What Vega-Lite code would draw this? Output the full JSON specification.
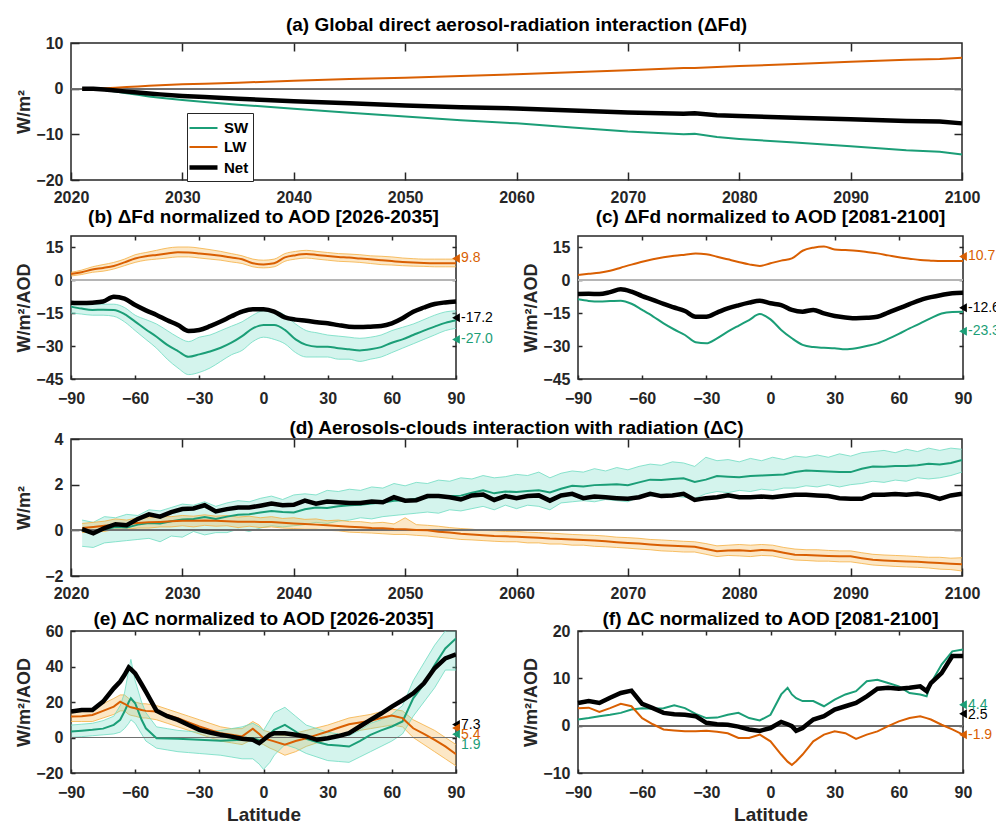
{
"$schema": "https://vega.github.io/schema/vega-lite/v6.json",
"background": "white",
"padding": {"left": 14, "top": 15, "right": 0, "bottom": 0},
"spacing": -4,
"vconcat": [
{
"width": 891, "height": 137,
"title": {"text": "(a) Global direct aerosol-radiation interaction (ΔFd)", "offset": 0},
"data": {"values": [
{"year":2021,"SW":0,"LW":0,"Net":0},
{"year":2022,"SW":-0.05,"LW":0.02,"Net":-0.03},
{"year":2023,"SW":-0.3,"LW":0.1,"Net":-0.2},
{"year":2024,"SW":-0.6,"LW":0.2,"Net":-0.4},
{"year":2025,"SW":-1.0,"LW":0.35,"Net":-0.65},
{"year":2026,"SW":-1.35,"LW":0.5,"Net":-0.85},
{"year":2027,"SW":-1.7,"LW":0.65,"Net":-1.05},
{"year":2028,"SW":-2.0,"LW":0.75,"Net":-1.25},
{"year":2030,"SW":-2.5,"LW":0.95,"Net":-1.6},
{"year":2032,"SW":-2.9,"LW":1.1,"Net":-1.85},
{"year":2035,"SW":-3.5,"LW":1.3,"Net":-2.2},
{"year":2040,"SW":-4.4,"LW":1.75,"Net":-2.75},
{"year":2045,"SW":-5.3,"LW":2.1,"Net":-3.2},
{"year":2050,"SW":-6.1,"LW":2.4,"Net":-3.7},
{"year":2055,"SW":-6.9,"LW":2.8,"Net":-4.05},
{"year":2060,"SW":-7.6,"LW":3.15,"Net":-4.35},
{"year":2065,"SW":-8.5,"LW":3.6,"Net":-4.8},
{"year":2070,"SW":-9.4,"LW":4.05,"Net":-5.2},
{"year":2075,"SW":-10.0,"LW":4.5,"Net":-5.5},
{"year":2076,"SW":-9.9,"LW":4.55,"Net":-5.4},
{"year":2078,"SW":-10.6,"LW":4.75,"Net":-5.8},
{"year":2080,"SW":-11.0,"LW":4.95,"Net":-6.0},
{"year":2085,"SW":-11.8,"LW":5.4,"Net":-6.35},
{"year":2090,"SW":-12.6,"LW":5.9,"Net":-6.7},
{"year":2095,"SW":-13.5,"LW":6.35,"Net":-7.1},
{"year":2098,"SW":-13.8,"LW":6.5,"Net":-7.2},
{"year":2100,"SW":-14.4,"LW":6.75,"Net":-7.6}
]},
"resolve": {"axis": {"x": "independent", "y": "independent"}},
"layer": [
{"mark": {"type": "rule", "color": "#707070", "strokeWidth": 1}, "encoding": {"y": {"datum": 0, "type": "quantitative", "axis": null}}},
{"mark": {"type": "point", "opacity": 0}, "encoding": {
 "x": {"field": "year", "type": "quantitative", "scale": {"domain": [2020,2100], "nice": false, "zero": false}, "axis": {"orient": "top", "labels": false, "title": null, "values": [2030,2040,2050,2060,2070,2080,2090], "tickSize": -8}},
 "y": {"field": "SW", "type": "quantitative", "scale": {"domain": [-20,10], "nice": false, "zero": false}, "axis": {"orient": "right", "labels": false, "title": null, "values": [-10,0], "tickSize": -8}}}},
{"transform": [{"fold": ["SW","LW","Net"], "as": ["series","value"]}],
 "mark": {"type": "line"},
 "encoding": {
 "x": {"field": "year", "type": "quantitative", "scale": {"domain": [2020,2100], "nice": false, "zero": false}, "axis": {"values": [2020,2030,2040,2050,2060,2070,2080,2090,2100], "format": "d", "title": null, "tickSize": -8, "labelPadding": 17}},
 "y": {"field": "value", "type": "quantitative", "scale": {"domain": [-20,10], "nice": false, "zero": false}, "axis": {"values": [-20,-10,0,10], "title": "W/m²", "tickSize": -8, "labelPadding": 16}},
 "color": {"field": "series", "type": "nominal", "scale": {"domain": ["SW","LW","Net"], "range": ["#1b9e77","#d95f02","#000000"]},
   "legend": {"orient": "none", "legendX": 116, "legendY": 70, "title": null, "strokeColor": "#262626", "fillColor": "#ffffff", "padding": 4, "labelFontSize": 15, "labelFontWeight": "bold", "labelColor": "#000000", "symbolType": "M-1.4,0H1.4", "symbolSize": 400, "rowPadding": 0, "labelOffset": 8, "offset": 0}},
 "strokeWidth": {"field": "series", "type": "nominal", "scale": {"type": "ordinal", "domain": ["SW","LW","Net"], "range": [2,2,4.5]},
   "legend": {"orient": "none", "legendX": 116, "legendY": 70, "title": null, "strokeColor": "#262626", "fillColor": "#ffffff", "padding": 4, "labelFontSize": 15, "labelFontWeight": "bold", "labelColor": "#000000", "symbolType": "M-1.4,0H1.4", "symbolSize": 400, "rowPadding": 0, "labelOffset": 8, "offset": 0}}
 }}
]
},
{"width": 1, "height": 4, "view": {"stroke": null}, "data": {"values": [{"k": 0}]}, "mark": {"type": "point", "opacity": 0}},
{"bounds": "flush", "spacing": 122, "hconcat": [
{
"width": 385, "height": 143,
"title": {"text": "(b) ΔFd normalized to AOD [2026-2035]", "offset": 8},
"data": {"values": [
{"lat":-90,"SW":-12.1,"LW":2.7,"Net":-10.3,"SWlo":-15,"SWhi":-10,"LWlo":1.8,"LWhi":3.5},
{"lat":-85,"SW":-13.0,"LW":3.5,"Net":-10.5,"SWlo":-15.5,"SWhi":-10.5,"LWlo":2.5,"LWhi":4.5},
{"lat":-80,"SW":-13.6,"LW":4.8,"Net":-10.3,"SWlo":-16,"SWhi":-11,"LWlo":3.5,"LWhi":6},
{"lat":-75,"SW":-13.5,"LW":5.5,"Net":-9.8,"SWlo":-16,"SWhi":-11,"LWlo":4,"LWhi":7},
{"lat":-70,"SW":-13.6,"LW":6.4,"Net":-7.6,"SWlo":-16.5,"SWhi":-11,"LWlo":5,"LWhi":8},
{"lat":-65,"SW":-15.5,"LW":8.0,"Net":-8.5,"SWlo":-19,"SWhi":-12.5,"LWlo":6.5,"LWhi":9.5},
{"lat":-60,"SW":-18.9,"LW":9.8,"Net":-11.4,"SWlo":-23,"SWhi":-16,"LWlo":8,"LWhi":11.5},
{"lat":-55,"SW":-22.5,"LW":10.8,"Net":-13.8,"SWlo":-27,"SWhi":-18,"LWlo":9,"LWhi":12.5},
{"lat":-50,"SW":-25.8,"LW":11.4,"Net":-15.9,"SWlo":-31,"SWhi":-20,"LWlo":9.5,"LWhi":13.5},
{"lat":-45,"SW":-29.5,"LW":12.0,"Net":-18.3,"SWlo":-36,"SWhi":-23,"LWlo":10,"LWhi":14.5},
{"lat":-40,"SW":-32.3,"LW":12.6,"Net":-20.5,"SWlo":-40,"SWhi":-26,"LWlo":10.5,"LWhi":15},
{"lat":-35,"SW":-34.9,"LW":12.5,"Net":-23.2,"SWlo":-43,"SWhi":-28,"LWlo":10.5,"LWhi":15},
{"lat":-30,"SW":-33.8,"LW":12.1,"Net":-22.7,"SWlo":-42,"SWhi":-26,"LWlo":10,"LWhi":14.5},
{"lat":-25,"SW":-32.5,"LW":11.6,"Net":-21.0,"SWlo":-40,"SWhi":-25,"LWlo":9.5,"LWhi":13.8},
{"lat":-20,"SW":-30.8,"LW":11.0,"Net":-18.9,"SWlo":-37,"SWhi":-23,"LWlo":9,"LWhi":13},
{"lat":-15,"SW":-28.5,"LW":10.2,"Net":-16.5,"SWlo":-34,"SWhi":-21,"LWlo":8.2,"LWhi":12},
{"lat":-10,"SW":-25.5,"LW":9.4,"Net":-14.4,"SWlo":-32,"SWhi":-19,"LWlo":7.5,"LWhi":11},
{"lat":-5,"SW":-22.0,"LW":7.6,"Net":-13.3,"SWlo":-28,"SWhi":-16,"LWlo":6,"LWhi":9.5},
{"lat":0,"SW":-20.5,"LW":7.1,"Net":-13.3,"SWlo":-26,"SWhi":-14,"LWlo":5.5,"LWhi":9},
{"lat":5,"SW":-20.5,"LW":7.6,"Net":-14.4,"SWlo":-27,"SWhi":-14,"LWlo":6,"LWhi":9.5},
{"lat":10,"SW":-22.7,"LW":10.3,"Net":-17.0,"SWlo":-29,"SWhi":-16,"LWlo":8.5,"LWhi":12},
{"lat":15,"SW":-27.0,"LW":11.3,"Net":-18.0,"SWlo":-33,"SWhi":-20,"LWlo":9.5,"LWhi":13},
{"lat":20,"SW":-29.5,"LW":11.8,"Net":-18.5,"SWlo":-35,"SWhi":-23,"LWlo":10,"LWhi":13.5},
{"lat":25,"SW":-30.3,"LW":11.4,"Net":-19.2,"SWlo":-35,"SWhi":-24,"LWlo":9.5,"LWhi":13},
{"lat":30,"SW":-30.3,"LW":10.9,"Net":-19.7,"SWlo":-35,"SWhi":-25,"LWlo":9,"LWhi":12.5},
{"lat":35,"SW":-31.0,"LW":10.5,"Net":-20.5,"SWlo":-36,"SWhi":-25.5,"LWlo":8.5,"LWhi":12},
{"lat":40,"SW":-31.5,"LW":10.2,"Net":-21.2,"SWlo":-36,"SWhi":-26,"LWlo":8.3,"LWhi":11.8},
{"lat":45,"SW":-32.0,"LW":9.8,"Net":-21.4,"SWlo":-37,"SWhi":-26.5,"LWlo":8,"LWhi":11.5},
{"lat":50,"SW":-31.5,"LW":9.4,"Net":-21.2,"SWlo":-36,"SWhi":-26,"LWlo":7.5,"LWhi":11},
{"lat":55,"SW":-30.5,"LW":9.0,"Net":-20.9,"SWlo":-35,"SWhi":-25,"LWlo":7,"LWhi":10.8},
{"lat":60,"SW":-28.5,"LW":8.6,"Net":-19.7,"SWlo":-33,"SWhi":-23,"LWlo":6.8,"LWhi":10.5},
{"lat":65,"SW":-27.0,"LW":8.2,"Net":-17.4,"SWlo":-31,"SWhi":-21.5,"LWlo":6.5,"LWhi":10},
{"lat":70,"SW":-25.0,"LW":7.9,"Net":-14.4,"SWlo":-29,"SWhi":-20,"LWlo":6.3,"LWhi":9.7},
{"lat":75,"SW":-23.0,"LW":7.7,"Net":-12.5,"SWlo":-27,"SWhi":-18,"LWlo":6.2,"LWhi":9.5},
{"lat":80,"SW":-21.2,"LW":7.6,"Net":-10.9,"SWlo":-25,"SWhi":-16,"LWlo":6,"LWhi":9.5},
{"lat":85,"SW":-19.5,"LW":7.6,"Net":-10.2,"SWlo":-23,"SWhi":-14.5,"LWlo":6,"LWhi":9.5},
{"lat":90,"SW":-18.3,"LW":7.6,"Net":-9.8,"SWlo":-22,"SWhi":-14,"LWlo":6,"LWhi":9.5}
]},
"resolve": {"axis": {"x": "independent", "y": "independent"}},
"layer": [
{"mark": {"type": "area", "color": "#f5b041", "opacity": 0.3, "interpolate": "monotone", "clip": true}, "encoding": {"x": {"field": "lat", "type": "quantitative", "axis": null}, "y": {"field": "LWlo", "type": "quantitative", "axis": null}, "y2": {"field": "LWhi"}}},
{"mark": {"type": "line", "color": "#f5b041", "strokeWidth": 0.8, "interpolate": "monotone", "clip": true}, "encoding": {"x": {"field": "lat", "type": "quantitative", "axis": null}, "y": {"field": "LWlo", "type": "quantitative", "axis": null}}},
{"mark": {"type": "line", "color": "#f5b041", "strokeWidth": 0.8, "interpolate": "monotone", "clip": true}, "encoding": {"x": {"field": "lat", "type": "quantitative", "axis": null}, "y": {"field": "LWhi", "type": "quantitative", "axis": null}}},
{"mark": {"type": "area", "color": "#6fdcc2", "opacity": 0.3, "interpolate": "monotone", "clip": true}, "encoding": {"x": {"field": "lat", "type": "quantitative", "axis": null}, "y": {"field": "SWlo", "type": "quantitative", "axis": null}, "y2": {"field": "SWhi"}}},
{"mark": {"type": "line", "color": "#6fdcc2", "strokeWidth": 0.8, "interpolate": "monotone", "clip": true}, "encoding": {"x": {"field": "lat", "type": "quantitative", "axis": null}, "y": {"field": "SWlo", "type": "quantitative", "axis": null}}},
{"mark": {"type": "line", "color": "#6fdcc2", "strokeWidth": 0.8, "interpolate": "monotone", "clip": true}, "encoding": {"x": {"field": "lat", "type": "quantitative", "axis": null}, "y": {"field": "SWhi", "type": "quantitative", "axis": null}}},
{"mark": {"type": "rule", "color": "#b5b5b5", "strokeWidth": 2}, "encoding": {"y": {"datum": 0, "type": "quantitative", "axis": null}}},
{"mark": {"type": "point", "opacity": 0}, "encoding": {
 "x": {"field": "lat", "type": "quantitative", "scale": {"domain": [-90,90], "nice": false, "zero": false}, "axis": {"orient": "top", "labels": false, "title": null, "values": [-60,-30,0,30,60], "tickSize": -4}},
 "y": {"field": "SW", "type": "quantitative", "scale": {"domain": [-45,20], "nice": false, "zero": false}, "axis": {"orient": "right", "labels": false, "title": null, "values": [-30,-15,0,15], "tickSize": -4}}}},
{"transform": [{"fold": ["SW","LW","Net"], "as": ["series","value"]}],
 "mark": {"type": "line", "interpolate": "monotone"},
 "encoding": {
 "x": {"field": "lat", "type": "quantitative", "scale": {"domain": [-90,90], "nice": false, "zero": false}, "axis": {"values": [-90,-60,-30,0,30,60,90], "title": null, "tickSize": -4, "labelPadding": 15}},
 "y": {"field": "value", "type": "quantitative", "scale": {"domain": [-45,20], "nice": false, "zero": false}, "axis": {"values": [-45,-30,-15,0,15], "title": "W/m²/AOD", "tickSize": -4, "labelPadding": 12}},
 "color": {"field": "series", "type": "nominal", "scale": {"domain": ["SW","LW","Net"], "range": ["#1b9e77","#d95f02","#000000"]}, "legend": null},
 "strokeWidth": {"field": "series", "type": "nominal", "scale": {"type": "ordinal", "domain": ["SW","LW","Net"], "range": [2,2,4.5]}, "legend": null}
 }},
{"data": {"values": [{"lat":90,"v":9.8,"ty":9.8,"label":"9.8","series":"LW"},{"lat":90,"v":-17.2,"ty":-17.2,"label":"-17.2","series":"Net"},{"lat":90,"v":-27.0,"ty":-27.0,"label":"-27.0","series":"SW"}]},
 "mark": {"type": "point", "shape": "triangle-left", "filled": true, "size": 80, "opacity": 1},
 "encoding": {"x": {"field": "lat", "type": "quantitative", "axis": null}, "y": {"field": "v", "type": "quantitative", "axis": null}, "color": {"field": "series", "type": "nominal", "legend": null}}},
{"data": {"values": [{"lat":90,"v":9.8,"ty":9.8,"label":"9.8","series":"LW"},{"lat":90,"v":-17.2,"ty":-17.2,"label":"-17.2","series":"Net"},{"lat":90,"v":-27.0,"ty":-27.0,"label":"-27.0","series":"SW"}]},
 "mark": {"type": "text", "align": "left", "baseline": "middle", "dx": 5, "fontSize": 14},
 "encoding": {"x": {"field": "lat", "type": "quantitative", "axis": null}, "y": {"field": "ty", "type": "quantitative", "axis": null}, "text": {"field": "label"}, "color": {"field": "series", "type": "nominal", "legend": null}}}
]
},
{
"width": 385, "height": 143,
"title": {"text": "(c) ΔFd normalized to AOD [2081-2100]", "offset": 8},
"data": {"values": [
{"lat":-90,"SW":-8.8,"LW":2.3,"Net":-6.4},
{"lat":-85,"SW":-9.5,"LW":2.8,"Net":-6.3},
{"lat":-80,"SW":-9.8,"LW":3.3,"Net":-6.4},
{"lat":-75,"SW":-9.6,"LW":4.2,"Net":-5.5},
{"lat":-70,"SW":-9.4,"LW":5.6,"Net":-4.2},
{"lat":-65,"SW":-10.8,"LW":7.0,"Net":-5.3},
{"lat":-60,"SW":-13.6,"LW":8.3,"Net":-7.3},
{"lat":-55,"SW":-16.5,"LW":9.4,"Net":-9.0},
{"lat":-50,"SW":-19.7,"LW":10.3,"Net":-10.9},
{"lat":-45,"SW":-22.5,"LW":11.0,"Net":-12.5},
{"lat":-40,"SW":-25.0,"LW":11.5,"Net":-14.1},
{"lat":-35,"SW":-28.3,"LW":12.0,"Net":-16.7},
{"lat":-30,"SW":-28.8,"LW":11.7,"Net":-16.7},
{"lat":-25,"SW":-26.5,"LW":10.6,"Net":-14.8},
{"lat":-20,"SW":-23.5,"LW":9.4,"Net":-12.9},
{"lat":-15,"SW":-20.8,"LW":8.2,"Net":-11.5},
{"lat":-10,"SW":-18.2,"LW":7.1,"Net":-10.3},
{"lat":-5,"SW":-15.5,"LW":6.4,"Net":-9.4},
{"lat":0,"SW":-17.9,"LW":7.6,"Net":-10.6},
{"lat":5,"SW":-22.7,"LW":8.8,"Net":-11.4},
{"lat":10,"SW":-26.5,"LW":9.8,"Net":-13.6},
{"lat":15,"SW":-29.5,"LW":13.3,"Net":-14.4},
{"lat":20,"SW":-30.5,"LW":14.7,"Net":-13.6},
{"lat":25,"SW":-30.8,"LW":15.2,"Net":-15.2},
{"lat":30,"SW":-31.0,"LW":13.9,"Net":-16.4},
{"lat":35,"SW":-31.5,"LW":13.6,"Net":-17.0},
{"lat":40,"SW":-31.0,"LW":13.3,"Net":-17.4},
{"lat":45,"SW":-30.0,"LW":12.7,"Net":-17.2},
{"lat":50,"SW":-28.8,"LW":12.1,"Net":-16.7},
{"lat":55,"SW":-26.8,"LW":11.2,"Net":-14.8},
{"lat":60,"SW":-24.5,"LW":10.3,"Net":-12.9},
{"lat":65,"SW":-22.0,"LW":9.7,"Net":-11.0},
{"lat":70,"SW":-19.7,"LW":9.1,"Net":-9.1},
{"lat":75,"SW":-17.3,"LW":8.8,"Net":-7.8},
{"lat":80,"SW":-15.2,"LW":8.6,"Net":-6.8},
{"lat":85,"SW":-14.5,"LW":8.6,"Net":-6.0},
{"lat":90,"SW":-14.4,"LW":8.6,"Net":-5.8}
]},
"resolve": {"axis": {"x": "independent", "y": "independent"}},
"layer": [
{"mark": {"type": "rule", "color": "#b5b5b5", "strokeWidth": 2}, "encoding": {"y": {"datum": 0, "type": "quantitative", "axis": null}}},
{"mark": {"type": "point", "opacity": 0}, "encoding": {
 "x": {"field": "lat", "type": "quantitative", "scale": {"domain": [-90,90], "nice": false, "zero": false}, "axis": {"orient": "top", "labels": false, "title": null, "values": [-60,-30,0,30,60], "tickSize": -4}},
 "y": {"field": "SW", "type": "quantitative", "scale": {"domain": [-45,20], "nice": false, "zero": false}, "axis": {"orient": "right", "labels": false, "title": null, "values": [-30,-15,0,15], "tickSize": -4}}}},
{"transform": [{"fold": ["SW","LW","Net"], "as": ["series","value"]}],
 "mark": {"type": "line", "interpolate": "monotone"},
 "encoding": {
 "x": {"field": "lat", "type": "quantitative", "scale": {"domain": [-90,90], "nice": false, "zero": false}, "axis": {"values": [-90,-60,-30,0,30,60,90], "title": null, "tickSize": -4, "labelPadding": 15}},
 "y": {"field": "value", "type": "quantitative", "scale": {"domain": [-45,20], "nice": false, "zero": false}, "axis": {"values": [-45,-30,-15,0,15], "title": "W/m²/AOD", "tickSize": -4, "labelPadding": 12}},
 "color": {"field": "series", "type": "nominal", "scale": {"domain": ["SW","LW","Net"], "range": ["#1b9e77","#d95f02","#000000"]}, "legend": null},
 "strokeWidth": {"field": "series", "type": "nominal", "scale": {"type": "ordinal", "domain": ["SW","LW","Net"], "range": [2,2,4.5]}, "legend": null}
 }},
{"data": {"values": [{"lat":90,"v":10.7,"ty":10.7,"label":"10.7","series":"LW"},{"lat":90,"v":-12.6,"ty":-12.6,"label":"-12.6","series":"Net"},{"lat":90,"v":-23.3,"ty":-23.3,"label":"-23.3","series":"SW"}]},
 "mark": {"type": "point", "shape": "triangle-left", "filled": true, "size": 80, "opacity": 1},
 "encoding": {"x": {"field": "lat", "type": "quantitative", "axis": null}, "y": {"field": "v", "type": "quantitative", "axis": null}, "color": {"field": "series", "type": "nominal", "legend": null}}},
{"data": {"values": [{"lat":90,"v":10.7,"ty":10.7,"label":"10.7","series":"LW"},{"lat":90,"v":-12.6,"ty":-12.6,"label":"-12.6","series":"Net"},{"lat":90,"v":-23.3,"ty":-23.3,"label":"-23.3","series":"SW"}]},
 "mark": {"type": "text", "align": "left", "baseline": "middle", "dx": 5, "fontSize": 14},
 "encoding": {"x": {"field": "lat", "type": "quantitative", "axis": null}, "y": {"field": "ty", "type": "quantitative", "axis": null}, "text": {"field": "label"}, "color": {"field": "series", "type": "nominal", "legend": null}}}
]
}
]},
{"width": 1, "height": 15, "view": {"stroke": null}, "data": {"values": [{"k": 0}]}, "mark": {"type": "point", "opacity": 0}},
{
"width": 891, "height": 137,
"title": {"text": "(d) Aerosols-clouds interaction with radiation (ΔC)", "offset": -7},
"data": {"values": [
{"year":2021,"SW":0.00,"LW":0.10,"Net":0.05,"SWlo":-0.70,"SWhi":0.45,"LWlo":-0.10,"LWhi":0.30},
{"year":2022,"SW":-0.10,"LW":0.15,"Net":-0.13,"SWlo":-0.75,"SWhi":0.35,"LWlo":-0.05,"LWhi":0.35},
{"year":2023,"SW":0.05,"LW":0.20,"Net":0.10,"SWlo":-0.55,"SWhi":0.60,"LWlo":-0.05,"LWhi":0.40},
{"year":2024,"SW":0.15,"LW":0.25,"Net":0.27,"SWlo":-0.50,"SWhi":0.55,"LWlo":0.05,"LWhi":0.50},
{"year":2025,"SW":0.12,"LW":0.28,"Net":0.22,"SWlo":-0.45,"SWhi":0.70,"LWlo":0.05,"LWhi":0.45},
{"year":2026,"SW":0.25,"LW":0.32,"Net":0.50,"SWlo":-0.40,"SWhi":0.65,"LWlo":0.10,"LWhi":0.55},
{"year":2027,"SW":0.32,"LW":0.35,"Net":0.70,"SWlo":-0.35,"SWhi":0.90,"LWlo":0.10,"LWhi":0.55},
{"year":2028,"SW":0.30,"LW":0.37,"Net":0.60,"SWlo":-0.50,"SWhi":0.85,"LWlo":0.15,"LWhi":0.60},
{"year":2029,"SW":0.40,"LW":0.40,"Net":0.80,"SWlo":-0.25,"SWhi":1.00,"LWlo":0.15,"LWhi":0.60},
{"year":2030,"SW":0.48,"LW":0.42,"Net":0.93,"SWlo":-0.30,"SWhi":1.15,"LWlo":0.20,"LWhi":0.65},
{"year":2031,"SW":0.50,"LW":0.42,"Net":0.96,"SWlo":-0.05,"SWhi":1.10,"LWlo":0.15,"LWhi":0.62},
{"year":2032,"SW":0.58,"LW":0.43,"Net":1.10,"SWlo":-0.20,"SWhi":1.25,"LWlo":0.22,"LWhi":0.68},
{"year":2033,"SW":0.50,"LW":0.42,"Net":0.83,"SWlo":-0.10,"SWhi":1.05,"LWlo":0.18,"LWhi":0.62},
{"year":2034,"SW":0.60,"LW":0.40,"Net":0.93,"SWlo":-0.10,"SWhi":1.20,"LWlo":0.20,"LWhi":0.65},
{"year":2035,"SW":0.68,"LW":0.38,"Net":1.00,"SWlo":0.05,"SWhi":1.30,"LWlo":0.12,"LWhi":0.58},
{"year":2036,"SW":0.70,"LW":0.38,"Net":1.00,"SWlo":-0.05,"SWhi":1.25,"LWlo":0.18,"LWhi":0.62},
{"year":2037,"SW":0.78,"LW":0.37,"Net":1.08,"SWlo":0.10,"SWhi":1.40,"LWlo":0.12,"LWhi":0.55},
{"year":2038,"SW":0.85,"LW":0.36,"Net":1.17,"SWlo":0.20,"SWhi":1.50,"LWlo":0.15,"LWhi":0.60},
{"year":2039,"SW":0.80,"LW":0.33,"Net":1.10,"SWlo":0.15,"SWhi":1.35,"LWlo":0.10,"LWhi":0.52},
{"year":2040,"SW":0.78,"LW":0.30,"Net":1.12,"SWlo":0.20,"SWhi":1.55,"LWlo":0.08,"LWhi":0.55},
{"year":2041,"SW":0.92,"LW":0.28,"Net":1.30,"SWlo":0.25,"SWhi":1.60,"LWlo":0.05,"LWhi":0.48},
{"year":2042,"SW":1.00,"LW":0.25,"Net":1.17,"SWlo":0.35,"SWhi":1.55,"LWlo":0.05,"LWhi":0.50},
{"year":2043,"SW":0.98,"LW":0.22,"Net":1.26,"SWlo":0.30,"SWhi":1.75,"LWlo":0.00,"LWhi":0.42},
{"year":2044,"SW":1.05,"LW":0.19,"Net":1.23,"SWlo":0.40,"SWhi":1.70,"LWlo":-0.02,"LWhi":0.45},
{"year":2045,"SW":1.10,"LW":0.16,"Net":1.20,"SWlo":0.45,"SWhi":1.80,"LWlo":-0.08,"LWhi":0.38},
{"year":2046,"SW":1.12,"LW":0.13,"Net":1.20,"SWlo":0.55,"SWhi":1.75,"LWlo":-0.10,"LWhi":0.38},
{"year":2047,"SW":1.18,"LW":0.10,"Net":1.26,"SWlo":0.50,"SWhi":1.90,"LWlo":-0.12,"LWhi":0.32},
{"year":2048,"SW":1.22,"LW":0.09,"Net":1.23,"SWlo":0.60,"SWhi":1.85,"LWlo":-0.15,"LWhi":0.35},
{"year":2049,"SW":1.30,"LW":0.06,"Net":1.45,"SWlo":0.65,"SWhi":2.05,"LWlo":-0.18,"LWhi":0.28},
{"year":2050,"SW":1.32,"LW":0.05,"Net":1.30,"SWlo":0.70,"SWhi":1.95,"LWlo":-0.18,"LWhi":0.55},
{"year":2051,"SW":1.38,"LW":0.02,"Net":1.32,"SWlo":0.75,"SWhi":2.10,"LWlo":-0.22,"LWhi":0.25},
{"year":2052,"SW":1.45,"LW":0.00,"Net":1.50,"SWlo":0.80,"SWhi":2.05,"LWlo":-0.25,"LWhi":0.22},
{"year":2053,"SW":1.48,"LW":-0.06,"Net":1.50,"SWlo":0.75,"SWhi":2.20,"LWlo":-0.30,"LWhi":0.18},
{"year":2054,"SW":1.50,"LW":-0.10,"Net":1.45,"SWlo":0.90,"SWhi":2.15,"LWlo":-0.35,"LWhi":0.12},
{"year":2055,"SW":1.52,"LW":-0.15,"Net":1.35,"SWlo":0.85,"SWhi":2.30,"LWlo":-0.40,"LWhi":0.08},
{"year":2056,"SW":1.65,"LW":-0.18,"Net":1.53,"SWlo":0.95,"SWhi":2.25,"LWlo":-0.42,"LWhi":0.05},
{"year":2057,"SW":1.75,"LW":-0.22,"Net":1.57,"SWlo":1.05,"SWhi":2.40,"LWlo":-0.45,"LWhi":0.00},
{"year":2058,"SW":1.62,"LW":-0.25,"Net":1.33,"SWlo":0.90,"SWhi":2.30,"LWlo":-0.48,"LWhi":-0.02},
{"year":2059,"SW":1.70,"LW":-0.26,"Net":1.50,"SWlo":1.10,"SWhi":2.35,"LWlo":-0.50,"LWhi":-0.05},
{"year":2060,"SW":1.68,"LW":-0.28,"Net":1.41,"SWlo":0.95,"SWhi":2.45,"LWlo":-0.50,"LWhi":-0.05},
{"year":2061,"SW":1.72,"LW":-0.30,"Net":1.50,"SWlo":1.10,"SWhi":2.40,"LWlo":-0.55,"LWhi":-0.08},
{"year":2062,"SW":1.75,"LW":-0.32,"Net":1.53,"SWlo":1.05,"SWhi":2.55,"LWlo":-0.55,"LWhi":-0.10},
{"year":2063,"SW":1.66,"LW":-0.36,"Net":1.30,"SWlo":0.90,"SWhi":2.30,"LWlo":-0.60,"LWhi":-0.12},
{"year":2064,"SW":1.82,"LW":-0.38,"Net":1.53,"SWlo":1.20,"SWhi":2.50,"LWlo":-0.60,"LWhi":-0.15},
{"year":2065,"SW":1.95,"LW":-0.40,"Net":1.60,"SWlo":1.25,"SWhi":2.60,"LWlo":-0.65,"LWhi":-0.18},
{"year":2066,"SW":1.92,"LW":-0.42,"Net":1.41,"SWlo":1.30,"SWhi":2.55,"LWlo":-0.65,"LWhi":-0.20},
{"year":2067,"SW":1.98,"LW":-0.45,"Net":1.48,"SWlo":1.25,"SWhi":2.70,"LWlo":-0.70,"LWhi":-0.22},
{"year":2068,"SW":2.00,"LW":-0.48,"Net":1.45,"SWlo":1.35,"SWhi":2.60,"LWlo":-0.72,"LWhi":-0.25},
{"year":2069,"SW":2.02,"LW":-0.52,"Net":1.41,"SWlo":1.30,"SWhi":2.75,"LWlo":-0.75,"LWhi":-0.30},
{"year":2070,"SW":1.98,"LW":-0.55,"Net":1.38,"SWlo":1.25,"SWhi":2.65,"LWlo":-0.78,"LWhi":-0.32},
{"year":2071,"SW":2.10,"LW":-0.58,"Net":1.45,"SWlo":1.45,"SWhi":2.80,"LWlo":-0.82,"LWhi":-0.35},
{"year":2072,"SW":2.22,"LW":-0.62,"Net":1.60,"SWlo":1.50,"SWhi":2.90,"LWlo":-0.85,"LWhi":-0.40},
{"year":2073,"SW":2.20,"LW":-0.65,"Net":1.50,"SWlo":1.55,"SWhi":2.85,"LWlo":-0.90,"LWhi":-0.42},
{"year":2074,"SW":2.25,"LW":-0.68,"Net":1.53,"SWlo":1.50,"SWhi":3.00,"LWlo":-0.92,"LWhi":-0.45},
{"year":2075,"SW":2.28,"LW":-0.70,"Net":1.60,"SWlo":1.45,"SWhi":2.95,"LWlo":-0.95,"LWhi":-0.48},
{"year":2076,"SW":2.12,"LW":-0.72,"Net":1.33,"SWlo":1.40,"SWhi":2.80,"LWlo":-0.95,"LWhi":-0.50},
{"year":2077,"SW":2.22,"LW":-0.82,"Net":1.41,"SWlo":1.60,"SWhi":3.20,"LWlo":-1.05,"LWhi":-0.58},
{"year":2078,"SW":2.38,"LW":-0.92,"Net":1.45,"SWlo":1.70,"SWhi":3.05,"LWlo":-1.15,"LWhi":-0.68},
{"year":2079,"SW":2.35,"LW":-0.88,"Net":1.53,"SWlo":1.65,"SWhi":3.10,"LWlo":-1.10,"LWhi":-0.65},
{"year":2080,"SW":2.32,"LW":-0.87,"Net":1.45,"SWlo":1.75,"SWhi":3.00,"LWlo":-1.12,"LWhi":-0.62},
{"year":2081,"SW":2.38,"LW":-0.90,"Net":1.45,"SWlo":1.70,"SWhi":3.15,"LWlo":-1.15,"LWhi":-0.65},
{"year":2082,"SW":2.40,"LW":-0.86,"Net":1.48,"SWlo":1.80,"SWhi":3.05,"LWlo":-1.10,"LWhi":-0.62},
{"year":2083,"SW":2.42,"LW":-0.88,"Net":1.45,"SWlo":1.75,"SWhi":3.20,"LWlo":-1.12,"LWhi":-0.65},
{"year":2084,"SW":2.45,"LW":-0.98,"Net":1.50,"SWlo":1.85,"SWhi":3.10,"LWlo":-1.22,"LWhi":-0.75},
{"year":2085,"SW":2.55,"LW":-1.07,"Net":1.56,"SWlo":1.85,"SWhi":3.25,"LWlo":-1.30,"LWhi":-0.82},
{"year":2086,"SW":2.62,"LW":-1.08,"Net":1.56,"SWlo":1.95,"SWhi":3.20,"LWlo":-1.32,"LWhi":-0.85},
{"year":2087,"SW":2.60,"LW":-1.10,"Net":1.53,"SWlo":1.90,"SWhi":3.30,"LWlo":-1.35,"LWhi":-0.85},
{"year":2088,"SW":2.58,"LW":-1.12,"Net":1.50,"SWlo":2.00,"SWhi":3.20,"LWlo":-1.35,"LWhi":-0.88},
{"year":2089,"SW":2.56,"LW":-1.13,"Net":1.41,"SWlo":1.90,"SWhi":3.35,"LWlo":-1.38,"LWhi":-0.90},
{"year":2090,"SW":2.55,"LW":-1.14,"Net":1.38,"SWlo":2.00,"SWhi":3.25,"LWlo":-1.38,"LWhi":-0.90},
{"year":2091,"SW":2.70,"LW":-1.22,"Net":1.38,"SWlo":2.05,"SWhi":3.40,"LWlo":-1.45,"LWhi":-0.98},
{"year":2092,"SW":2.80,"LW":-1.29,"Net":1.56,"SWlo":2.15,"SWhi":3.45,"LWlo":-1.52,"LWhi":-1.05},
{"year":2093,"SW":2.78,"LW":-1.32,"Net":1.56,"SWlo":2.10,"SWhi":3.50,"LWlo":-1.55,"LWhi":-1.08},
{"year":2094,"SW":2.82,"LW":-1.34,"Net":1.59,"SWlo":2.20,"SWhi":3.40,"LWlo":-1.58,"LWhi":-1.10},
{"year":2095,"SW":2.82,"LW":-1.36,"Net":1.56,"SWlo":2.15,"SWhi":3.55,"LWlo":-1.60,"LWhi":-1.12},
{"year":2096,"SW":2.85,"LW":-1.38,"Net":1.60,"SWlo":2.30,"SWhi":3.45,"LWlo":-1.62,"LWhi":-1.15},
{"year":2097,"SW":2.92,"LW":-1.41,"Net":1.53,"SWlo":2.25,"SWhi":3.60,"LWlo":-1.65,"LWhi":-1.18},
{"year":2098,"SW":2.88,"LW":-1.43,"Net":1.38,"SWlo":2.30,"SWhi":3.50,"LWlo":-1.70,"LWhi":-1.18},
{"year":2099,"SW":2.95,"LW":-1.46,"Net":1.53,"SWlo":2.40,"SWhi":3.60,"LWlo":-1.72,"LWhi":-1.22},
{"year":2100,"SW":3.08,"LW":-1.48,"Net":1.60,"SWlo":2.55,"SWhi":3.55,"LWlo":-1.78,"LWhi":-1.20}
]},
"resolve": {"axis": {"x": "independent", "y": "independent"}},
"layer": [
{"mark": {"type": "area", "color": "#6fdcc2", "opacity": 0.3, "clip": true}, "encoding": {"x": {"field": "year", "type": "quantitative", "axis": null}, "y": {"field": "SWlo", "type": "quantitative", "axis": null}, "y2": {"field": "SWhi"}}},
{"mark": {"type": "line", "color": "#6fdcc2", "strokeWidth": 0.8, "clip": true}, "encoding": {"x": {"field": "year", "type": "quantitative", "axis": null}, "y": {"field": "SWlo", "type": "quantitative", "axis": null}}},
{"mark": {"type": "line", "color": "#6fdcc2", "strokeWidth": 0.8, "clip": true}, "encoding": {"x": {"field": "year", "type": "quantitative", "axis": null}, "y": {"field": "SWhi", "type": "quantitative", "axis": null}}},
{"mark": {"type": "area", "color": "#f5b041", "opacity": 0.3, "clip": true}, "encoding": {"x": {"field": "year", "type": "quantitative", "axis": null}, "y": {"field": "LWlo", "type": "quantitative", "axis": null}, "y2": {"field": "LWhi"}}},
{"mark": {"type": "line", "color": "#f5b041", "strokeWidth": 0.8, "clip": true}, "encoding": {"x": {"field": "year", "type": "quantitative", "axis": null}, "y": {"field": "LWlo", "type": "quantitative", "axis": null}}},
{"mark": {"type": "line", "color": "#f5b041", "strokeWidth": 0.8, "clip": true}, "encoding": {"x": {"field": "year", "type": "quantitative", "axis": null}, "y": {"field": "LWhi", "type": "quantitative", "axis": null}}},
{"mark": {"type": "rule", "color": "#707070", "strokeWidth": 1}, "encoding": {"y": {"datum": 0, "type": "quantitative", "axis": null}}},
{"mark": {"type": "point", "opacity": 0}, "encoding": {
 "x": {"field": "year", "type": "quantitative", "scale": {"domain": [2020,2100], "nice": false, "zero": false}, "axis": {"orient": "top", "labels": false, "title": null, "values": [2030,2040,2050,2060,2070,2080,2090], "tickSize": -8}},
 "y": {"field": "SW", "type": "quantitative", "scale": {"domain": [-2,4], "nice": false, "zero": false}, "axis": {"orient": "right", "labels": false, "title": null, "values": [0,2], "tickSize": -8}}}},
{"transform": [{"fold": ["SW","LW","Net"], "as": ["series","value"]}],
 "mark": {"type": "line"},
 "encoding": {
 "x": {"field": "year", "type": "quantitative", "scale": {"domain": [2020,2100], "nice": false, "zero": false}, "axis": {"values": [2020,2030,2040,2050,2060,2070,2080,2090,2100], "format": "d", "title": null, "tickSize": -8, "labelPadding": 17}},
 "y": {"field": "value", "type": "quantitative", "scale": {"domain": [-2,4], "nice": false, "zero": false}, "axis": {"values": [-2,0,2,4], "title": "W/m²", "tickSize": -8, "labelPadding": 16}},
 "color": {"field": "series", "type": "nominal", "scale": {"domain": ["SW","LW","Net"], "range": ["#1b9e77","#d95f02","#000000"]},
   "legend": {"orient": "none", "legendX": 16, "legendY": 3, "title": null, "strokeColor": "#262626", "fillColor": "#ffffff", "padding": 4, "labelFontSize": 15, "labelFontWeight": "bold", "labelColor": "#000000", "symbolType": "M-1.4,0H1.4", "symbolSize": 400, "rowPadding": 0, "labelOffset": 8, "offset": 0}},
 "strokeWidth": {"field": "series", "type": "nominal", "scale": {"type": "ordinal", "domain": ["SW","LW","Net"], "range": [2,2,4.5]},
   "legend": {"orient": "none", "legendX": 16, "legendY": 3, "title": null, "strokeColor": "#262626", "fillColor": "#ffffff", "padding": 4, "labelFontSize": 15, "labelFontWeight": "bold", "labelColor": "#000000", "symbolType": "M-1.4,0H1.4", "symbolSize": 400, "rowPadding": 0, "labelOffset": 8, "offset": 0}}
 }}
]
},
{"width": 1, "height": 11, "view": {"stroke": null}, "data": {"values": [{"k": 0}]}, "mark": {"type": "point", "opacity": 0}},
{"bounds": "flush", "spacing": 122, "hconcat": [
{
"width": 385, "height": 142,
"title": {"text": "(e) ΔC normalized to AOD [2026-2035]", "offset": -6},
"data": {"values": [
{"lat":-90,"SW":3.4,"LW":11.8,"Net":14.6,"SWlo":0,"SWhi":7,"LWlo":9,"LWhi":15},
{"lat":-85,"SW":3.8,"LW":12.0,"Net":15.5,"SWlo":0.5,"SWhi":7.5,"LWlo":9,"LWhi":15.5},
{"lat":-80,"SW":4.3,"LW":12.7,"Net":15.5,"SWlo":1,"SWhi":8,"LWlo":9,"LWhi":16},
{"lat":-75,"SW":5.0,"LW":15.0,"Net":20.2,"SWlo":1.5,"SWhi":9.5,"LWlo":11,"LWhi":19},
{"lat":-70,"SW":7.1,"LW":17.4,"Net":27.7,"SWlo":2,"SWhi":12,"LWlo":13,"LWhi":22},
{"lat":-67,"SW":10.0,"LW":20.2,"Net":31.5,"SWlo":3,"SWhi":18,"LWlo":15,"LWhi":24},
{"lat":-65,"SW":14.6,"LW":19.0,"Net":35.2,"SWlo":5,"SWhi":25,"LWlo":15,"LWhi":24},
{"lat":-63,"SW":20.0,"LW":17.5,"Net":39.5,"SWlo":8,"SWhi":38,"LWlo":13,"LWhi":22},
{"lat":-62,"SW":22.1,"LW":17.0,"Net":38.5,"SWlo":10,"SWhi":44,"LWlo":12.5,"LWhi":21},
{"lat":-60,"SW":19.3,"LW":16.5,"Net":36.1,"SWlo":8,"SWhi":32,"LWlo":12,"LWhi":20},
{"lat":-57,"SW":10.0,"LW":15.5,"Net":30.0,"SWlo":2,"SWhi":20,"LWlo":11,"LWhi":19},
{"lat":-55,"SW":5.2,"LW":15.0,"Net":25.8,"SWlo":-2,"SWhi":14,"LWlo":11,"LWhi":19},
{"lat":-50,"SW":-0.4,"LW":14.6,"Net":15.0,"SWlo":-6,"SWhi":6,"LWlo":10,"LWhi":18},
{"lat":-45,"SW":-0.5,"LW":12.7,"Net":12.0,"SWlo":-7,"SWhi":5,"LWlo":8,"LWhi":16},
{"lat":-40,"SW":-0.7,"LW":10.9,"Net":9.9,"SWlo":-8,"SWhi":4,"LWlo":6,"LWhi":14},
{"lat":-35,"SW":-1.0,"LW":8.5,"Net":7.0,"SWlo":-8.5,"SWhi":3.5,"LWlo":4,"LWhi":12},
{"lat":-30,"SW":-1.3,"LW":6.2,"Net":4.3,"SWlo":-9,"SWhi":3,"LWlo":2,"LWhi":10},
{"lat":-25,"SW":-1.6,"LW":4.3,"Net":2.8,"SWlo":-9.5,"SWhi":3.5,"LWlo":0,"LWhi":8},
{"lat":-20,"SW":-1.9,"LW":2.4,"Net":1.5,"SWlo":-10,"SWhi":4,"LWlo":-2,"LWhi":6},
{"lat":-15,"SW":-1.6,"LW":1.5,"Net":0.5,"SWlo":-11,"SWhi":5,"LWlo":-3,"LWhi":5},
{"lat":-10,"SW":-1.3,"LW":0.6,"Net":-0.7,"SWlo":-12,"SWhi":6,"LWlo":-4,"LWhi":5},
{"lat":-5,"SW":-0.4,"LW":4.9,"Net":-1.3,"SWlo":-12,"SWhi":8,"LWlo":-1,"LWhi":9},
{"lat":-2,"SW":-1.5,"LW":2.0,"Net":-3.2,"SWlo":-15,"SWhi":6,"LWlo":-3,"LWhi":7},
{"lat":0,"SW":-1.9,"LW":-0.4,"Net":-1.3,"SWlo":-18,"SWhi":4,"LWlo":-4,"LWhi":4},
{"lat":3,"SW":2.0,"LW":-1.5,"Net":1.5,"SWlo":-14,"SWhi":10,"LWlo":-6,"LWhi":3},
{"lat":5,"SW":4.3,"LW":-2.2,"Net":2.4,"SWlo":-10,"SWhi":14,"LWlo":-7,"LWhi":2},
{"lat":10,"SW":7.1,"LW":-4.1,"Net":2.4,"SWlo":-4,"SWhi":17,"LWlo":-10,"LWhi":1},
{"lat":15,"SW":3.4,"LW":-2.0,"Net":1.5,"SWlo":-6,"SWhi":12,"LWlo":-8,"LWhi":2.5},
{"lat":20,"SW":-0.7,"LW":-0.4,"Net":0.6,"SWlo":-9,"SWhi":7,"LWlo":-5,"LWhi":4},
{"lat":25,"SW":-2.5,"LW":1.5,"Net":-1.3,"SWlo":-11,"SWhi":5,"LWlo":-3,"LWhi":5.5},
{"lat":30,"SW":-4.1,"LW":3.4,"Net":-0.4,"SWlo":-13,"SWhi":3,"LWlo":-1,"LWhi":7},
{"lat":35,"SW":-4.5,"LW":5.5,"Net":0.8,"SWlo":-13.5,"SWhi":2,"LWlo":1,"LWhi":9},
{"lat":40,"SW":-5.1,"LW":7.5,"Net":2.4,"SWlo":-14,"SWhi":1,"LWlo":3,"LWhi":11},
{"lat":45,"SW":-2.0,"LW":8.5,"Net":6.2,"SWlo":-11,"SWhi":4,"LWlo":4,"LWhi":12},
{"lat":50,"SW":1.5,"LW":9.4,"Net":9.9,"SWlo":-8,"SWhi":8,"LWlo":5,"LWhi":13},
{"lat":55,"SW":4.0,"LW":11.0,"Net":13.5,"SWlo":-5,"SWhi":10,"LWlo":6,"LWhi":14.5},
{"lat":60,"SW":6.2,"LW":12.4,"Net":17.4,"SWlo":-2,"SWhi":13,"LWlo":7,"LWhi":16},
{"lat":65,"SW":9.0,"LW":10.9,"Net":21.0,"SWlo":2,"SWhi":18,"LWlo":6,"LWhi":15},
{"lat":70,"SW":22.1,"LW":5.2,"Net":24.9,"SWlo":12,"SWhi":32,"LWlo":0,"LWhi":10},
{"lat":75,"SW":30.0,"LW":2.0,"Net":30.5,"SWlo":20,"SWhi":42,"LWlo":-4,"LWhi":7},
{"lat":80,"SW":40.8,"LW":-1.3,"Net":39.0,"SWlo":28,"SWhi":52,"LWlo":-8,"LWhi":4},
{"lat":85,"SW":50.2,"LW":-5.0,"Net":44.6,"SWlo":38,"SWhi":60,"LWlo":-12,"LWhi":0},
{"lat":90,"SW":55.8,"LW":-9.4,"Net":46.8,"SWlo":38,"SWhi":62,"LWlo":-16,"LWhi":-4}
]},
"resolve": {"axis": {"x": "independent", "y": "independent"}},
"layer": [
{"mark": {"type": "area", "color": "#f5b041", "opacity": 0.3, "clip": true}, "encoding": {"x": {"field": "lat", "type": "quantitative", "axis": null}, "y": {"field": "LWlo", "type": "quantitative", "axis": null}, "y2": {"field": "LWhi"}}},
{"mark": {"type": "line", "color": "#f5b041", "strokeWidth": 0.8, "clip": true}, "encoding": {"x": {"field": "lat", "type": "quantitative", "axis": null}, "y": {"field": "LWlo", "type": "quantitative", "axis": null}}},
{"mark": {"type": "line", "color": "#f5b041", "strokeWidth": 0.8, "clip": true}, "encoding": {"x": {"field": "lat", "type": "quantitative", "axis": null}, "y": {"field": "LWhi", "type": "quantitative", "axis": null}}},
{"mark": {"type": "area", "color": "#6fdcc2", "opacity": 0.3, "clip": true}, "encoding": {"x": {"field": "lat", "type": "quantitative", "axis": null}, "y": {"field": "SWlo", "type": "quantitative", "axis": null}, "y2": {"field": "SWhi"}}},
{"mark": {"type": "line", "color": "#6fdcc2", "strokeWidth": 0.8, "clip": true}, "encoding": {"x": {"field": "lat", "type": "quantitative", "axis": null}, "y": {"field": "SWlo", "type": "quantitative", "axis": null}}},
{"mark": {"type": "line", "color": "#6fdcc2", "strokeWidth": 0.8, "clip": true}, "encoding": {"x": {"field": "lat", "type": "quantitative", "axis": null}, "y": {"field": "SWhi", "type": "quantitative", "axis": null}}},
{"mark": {"type": "rule", "color": "#707070", "strokeWidth": 1}, "encoding": {"y": {"datum": 0, "type": "quantitative", "axis": null}}},
{"mark": {"type": "point", "opacity": 0}, "encoding": {
 "x": {"field": "lat", "type": "quantitative", "scale": {"domain": [-90,90], "nice": false, "zero": false}, "axis": {"orient": "top", "labels": false, "title": null, "values": [-60,-30,0,30,60], "tickSize": -4}},
 "y": {"field": "SW", "type": "quantitative", "scale": {"domain": [-20,60], "nice": false, "zero": false}, "axis": {"orient": "right", "labels": false, "title": null, "values": [0,20,40], "tickSize": -4}}}},
{"transform": [{"fold": ["SW","LW","Net"], "as": ["series","value"]}],
 "mark": {"type": "line", "clip": true},
 "encoding": {
 "x": {"field": "lat", "type": "quantitative", "scale": {"domain": [-90,90], "nice": false, "zero": false}, "axis": {"values": [-90,-60,-30,0,30,60,90], "title": "Latitude", "tickSize": -4, "labelPadding": 15}},
 "y": {"field": "value", "type": "quantitative", "scale": {"domain": [-20,60], "nice": false, "zero": false}, "axis": {"values": [-20,0,20,40,60], "title": "W/m²/AOD", "tickSize": -4, "labelPadding": 12}},
 "color": {"field": "series", "type": "nominal", "scale": {"domain": ["SW","LW","Net"], "range": ["#1b9e77","#d95f02","#000000"]}, "legend": null},
 "strokeWidth": {"field": "series", "type": "nominal", "scale": {"type": "ordinal", "domain": ["SW","LW","Net"], "range": [2,2,4.5]}, "legend": null}
 }},
{"data": {"values": [{"lat":90,"v":7.3,"ty":7.1,"label":"7.3","series":"Net"},{"lat":90,"v":5.4,"ty":1.5,"label":"5.4","series":"LW"},{"lat":90,"v":1.9,"ty":-4.1,"label":"1.9","series":"SW"}]},
 "mark": {"type": "point", "shape": "triangle-left", "filled": true, "size": 80, "opacity": 1},
 "encoding": {"x": {"field": "lat", "type": "quantitative", "axis": null}, "y": {"field": "v", "type": "quantitative", "axis": null}, "color": {"field": "series", "type": "nominal", "legend": null}}},
{"data": {"values": [{"lat":90,"v":7.3,"ty":7.1,"label":"7.3","series":"Net"},{"lat":90,"v":5.4,"ty":1.5,"label":"5.4","series":"LW"},{"lat":90,"v":1.9,"ty":-4.1,"label":"1.9","series":"SW"}]},
 "mark": {"type": "text", "align": "left", "baseline": "middle", "dx": 5, "fontSize": 14},
 "encoding": {"x": {"field": "lat", "type": "quantitative", "axis": null}, "y": {"field": "ty", "type": "quantitative", "axis": null}, "text": {"field": "label"}, "color": {"field": "series", "type": "nominal", "legend": null}}}
]
},
{
"width": 385, "height": 142,
"title": {"text": "(f) ΔC normalized to AOD [2081-2100]", "offset": -6},
"data": {"values": [
{"lat":-90,"SW":1.3,"LW":3.7,"Net":4.8},
{"lat":-85,"SW":1.6,"LW":3.8,"Net":5.2},
{"lat":-80,"SW":2.0,"LW":2.9,"Net":4.8},
{"lat":-75,"SW":2.3,"LW":3.7,"Net":5.9},
{"lat":-70,"SW":2.7,"LW":4.6,"Net":6.9},
{"lat":-65,"SW":3.4,"LW":4.1,"Net":7.4},
{"lat":-60,"SW":3.7,"LW":1.6,"Net":4.6},
{"lat":-55,"SW":3.6,"LW":0.3,"Net":3.7},
{"lat":-50,"SW":3.7,"LW":-0.8,"Net":2.7},
{"lat":-45,"SW":4.3,"LW":-1.0,"Net":2.4},
{"lat":-40,"SW":3.7,"LW":-1.2,"Net":2.3},
{"lat":-35,"SW":2.5,"LW":-1.2,"Net":2.0},
{"lat":-30,"SW":1.6,"LW":-1.1,"Net":0.6},
{"lat":-25,"SW":1.7,"LW":-1.3,"Net":0.3},
{"lat":-20,"SW":2.3,"LW":-1.6,"Net":0.2},
{"lat":-15,"SW":2.7,"LW":-2.6,"Net":-0.2},
{"lat":-10,"SW":1.6,"LW":-2.6,"Net":-0.8},
{"lat":-5,"SW":1.1,"LW":-1.9,"Net":-1.1},
{"lat":0,"SW":2.3,"LW":-3.3,"Net":-0.5},
{"lat":5,"SW":6.6,"LW":-6.1,"Net":0.8},
{"lat":8,"SW":8.0,"LW":-7.6,"Net":0.3},
{"lat":10,"SW":6.6,"LW":-8.3,"Net":-0.1},
{"lat":12,"SW":5.8,"LW":-7.5,"Net":-1.1},
{"lat":15,"SW":5.2,"LW":-6.1,"Net":-0.5},
{"lat":20,"SW":5.2,"LW":-3.3,"Net":1.3},
{"lat":25,"SW":4.1,"LW":-1.9,"Net":2.0},
{"lat":30,"SW":5.5,"LW":-1.2,"Net":3.4},
{"lat":35,"SW":6.6,"LW":-1.6,"Net":4.1},
{"lat":40,"SW":7.3,"LW":-2.8,"Net":4.8},
{"lat":45,"SW":9.4,"LW":-1.9,"Net":6.2},
{"lat":50,"SW":9.7,"LW":-1.2,"Net":7.8},
{"lat":55,"SW":9.0,"LW":-0.1,"Net":8.0},
{"lat":60,"SW":8.3,"LW":0.9,"Net":7.8},
{"lat":65,"SW":6.9,"LW":1.6,"Net":8.0},
{"lat":70,"SW":6.6,"LW":2.0,"Net":8.3},
{"lat":73,"SW":6.2,"LW":1.6,"Net":7.3},
{"lat":75,"SW":9.0,"LW":1.3,"Net":9.0},
{"lat":80,"SW":12.9,"LW":0.2,"Net":11.1},
{"lat":85,"SW":15.7,"LW":-0.8,"Net":14.7},
{"lat":90,"SW":16.1,"LW":-1.9,"Net":14.7}
]},
"resolve": {"axis": {"x": "independent", "y": "independent"}},
"layer": [
{"mark": {"type": "rule", "color": "#707070", "strokeWidth": 1}, "encoding": {"y": {"datum": 0, "type": "quantitative", "axis": null}}},
{"mark": {"type": "point", "opacity": 0}, "encoding": {
 "x": {"field": "lat", "type": "quantitative", "scale": {"domain": [-90,90], "nice": false, "zero": false}, "axis": {"orient": "top", "labels": false, "title": null, "values": [-60,-30,0,30,60], "tickSize": -4}},
 "y": {"field": "SW", "type": "quantitative", "scale": {"domain": [-10,20], "nice": false, "zero": false}, "axis": {"orient": "right", "labels": false, "title": null, "values": [0,10], "tickSize": -4}}}},
{"transform": [{"fold": ["SW","LW","Net"], "as": ["series","value"]}],
 "mark": {"type": "line"},
 "encoding": {
 "x": {"field": "lat", "type": "quantitative", "scale": {"domain": [-90,90], "nice": false, "zero": false}, "axis": {"values": [-90,-60,-30,0,30,60,90], "title": "Latitude", "tickSize": -4, "labelPadding": 15}},
 "y": {"field": "value", "type": "quantitative", "scale": {"domain": [-10,20], "nice": false, "zero": false}, "axis": {"values": [-10,0,10,20], "title": "W/m²/AOD", "tickSize": -4, "labelPadding": 12}},
 "color": {"field": "series", "type": "nominal", "scale": {"domain": ["SW","LW","Net"], "range": ["#1b9e77","#d95f02","#000000"]}, "legend": null},
 "strokeWidth": {"field": "series", "type": "nominal", "scale": {"type": "ordinal", "domain": ["SW","LW","Net"], "range": [2,2,4.5]}, "legend": null}
 }},
{"data": {"values": [{"lat":90,"v":4.4,"ty":4.3,"label":"4.4","series":"SW"},{"lat":90,"v":2.5,"ty":2.3,"label":"2.5","series":"Net"},{"lat":90,"v":-1.9,"ty":-2.0,"label":"-1.9","series":"LW"}]},
 "mark": {"type": "point", "shape": "triangle-left", "filled": true, "size": 80, "opacity": 1},
 "encoding": {"x": {"field": "lat", "type": "quantitative", "axis": null}, "y": {"field": "v", "type": "quantitative", "axis": null}, "color": {"field": "series", "type": "nominal", "legend": null}}},
{"data": {"values": [{"lat":90,"v":4.4,"ty":4.3,"label":"4.4","series":"SW"},{"lat":90,"v":2.5,"ty":2.3,"label":"2.5","series":"Net"},{"lat":90,"v":-1.9,"ty":-2.0,"label":"-1.9","series":"LW"}]},
 "mark": {"type": "text", "align": "left", "baseline": "middle", "dx": 5, "fontSize": 14},
 "encoding": {"x": {"field": "lat", "type": "quantitative", "axis": null}, "y": {"field": "ty", "type": "quantitative", "axis": null}, "text": {"field": "label"}, "color": {"field": "series", "type": "nominal", "legend": null}}}
]
}
]}
],
"config": {
 "font": "Liberation Sans",
 "view": {"stroke": "#262626", "strokeWidth": 1.5},
 "axis": {"grid": false, "domain": false, "tickColor": "#262626", "tickWidth": 1.5, "labelFont": "Liberation Sans", "labelFontSize": 16, "labelFontWeight": "bold", "labelColor": "#262626", "labelPadding": 4, "titleFont": "Liberation Sans", "titleFontSize": 18, "titleFontWeight": "bold", "titleColor": "#262626", "labelFlush": false, "labelOverlap": false},
 "axisY": {"minExtent": 34, "maxExtent": 34, "titlePadding": 4},
 "axisX": {"titlePadding": 5, "titleFontSize": 19},
 "title": {"font": "Liberation Sans", "fontSize": 19, "fontWeight": "bold", "color": "#000000", "frame": "group"},
 "legend": {"labelFont": "Liberation Sans"},
 "text": {"font": "Liberation Sans"}
}
}
